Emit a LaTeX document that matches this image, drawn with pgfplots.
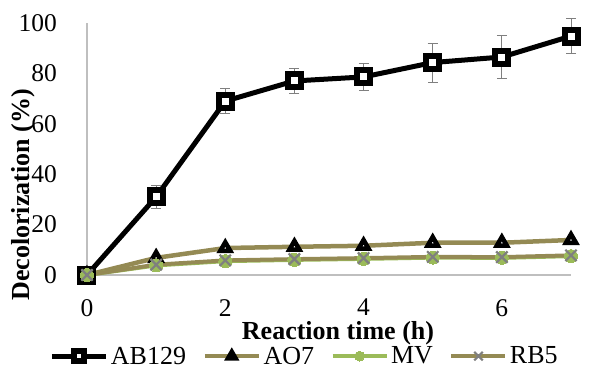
\documentclass[border=0pt]{standalone}
\usepackage{fontspec}
\setmainfont{Liberation Serif}
\usepackage{pgfplots}
\pgfplotsset{compat=1.18}
\definecolor{olive}{HTML}{948A54}
\definecolor{mvgreen}{HTML}{9BBB59}
\definecolor{xgray}{HTML}{7F7F7F}
\definecolor{axgray}{HTML}{BFBFBF}
\begin{document}
\begin{tikzpicture}
\begin{axis}[
  scale only axis,
  width=484bp, height=252bp,
  xmin=0, xmax=7, ymin=0, ymax=100,
  clip=false,
  axis x line*=bottom, axis y line*=left,
  axis line style={draw=axgray, line width=1.2bp, -},
  xtick={0,2,4,6}, ytick={0,20,40,60,80,100},
  major tick length=0pt,
  /pgf/number format/assume math mode=true,
  tick label style={font=\fontsize{25.5bp}{28bp}\selectfont, inner sep=0pt},
  yticklabel style={anchor=east, xshift=-30bp},
  xticklabel style={anchor=north, yshift=-24bp},
  xlabel={\textbf{Reaction time (h)}},
  ylabel={\textbf{Decolorization (\%)}},
  label style={font=\fontsize{26bp}{28bp}\selectfont},
  xlabel style={at={(axis description cs:0.5186,-0.232)}, anchor=center, inner sep=0pt},
  ylabel style={at={(axis description cs:-0.1322,0.3175)}, anchor=center},
  legend style={at={(axis description cs:0.45,-0.322)}, anchor=center,
    draw=none, fill=none, legend columns=4,
    font=\fontsize{26bp}{28bp}\selectfont,
    /tikz/every even column/.append style={column sep=14bp},
    nodes={inner sep=2.5bp}},
  legend image code/.code={%
    \draw[mark repeat=2, mark phase=2, every mark/.append style={scale=0.75}] plot coordinates {(0bp,0bp) (27bp,0bp) (54bp,0bp)};},
]
\addplot[black, line width=5bp, mark=square*, mark size=6.5bp,
  every mark/.append style={fill=white, draw=black, /tikz/line width=6bp},
  error bars/.cd, y dir=both, y explicit,
  error bar style={xgray, line width=0.9bp},
  error mark options={rotate=90, mark size=5bp, xgray, line width=0.9bp}]
  coordinates {
  (0,0) +- (0,0)
  (1,31) +- (0,4.6)
  (2,69) +- (0,5)
  (3,77) +- (0,5)
  (4,78.6) +- (0,5.5)
  (5,84.3) +- (0,7.7)
  (6,86.5) +- (0,8.5)
  (7,94.8) +- (0,7)
  };
\addlegendentry{AB129}
\addplot[olive, line width=4.5bp, mark=triangle*, mark size=5.8bp,
  every mark/.append style={fill=white, draw=black, /tikz/line width=4.5bp}]
  coordinates {(0,0) (1,6.8) (2,10.7) (3,11.2) (4,11.6) (5,12.8) (6,12.8) (7,13.9)};
\addlegendentry{AO7}
\addplot[mvgreen, line width=4bp, mark=*, mark size=6.5bp,
  mark options={fill=mvgreen, draw=mvgreen, line width=0pt}]
  coordinates {(0,0) (1,3.8) (2,5.5) (3,6) (4,6.4) (5,6.9) (6,6.8) (7,7.5)};
\addlegendentry{MV}
\addplot[olive, line width=4bp, mark=x, mark size=8bp,
  mark options={draw=xgray, line width=2.2bp}]
  coordinates {(0,0) (1,4.1) (2,5.8) (3,6.3) (4,6.7) (5,7.2) (6,7.1) (7,7.8)};
\addlegendentry{RB5}
\end{axis}
\pgfresetboundingbox
\path (current axis.south west) ++(-87bp,-94bp) rectangle ++(591bp,369bp);
\end{tikzpicture}
\end{document}
